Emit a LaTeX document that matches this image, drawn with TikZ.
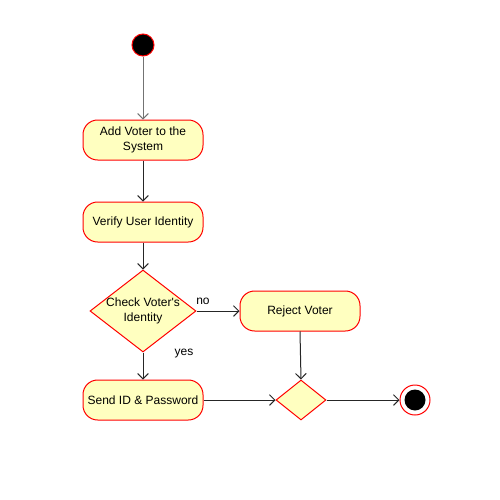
\documentclass[tikz,border=0pt]{standalone}
\usepackage{fontspec}
\setmainfont{Liberation Sans}
\usetikzlibrary{shapes.geometric,arrows.meta}
\definecolor{actfill}{HTML}{FFFFC0}
\definecolor{actline}{HTML}{FF0000}
\begin{document}
\begin{tikzpicture}[x=0.75pt,y=-0.75pt,line width=0.75pt,
  font=\fontsize{9pt}{11pt}\selectfont,
  act/.style={draw=actline,fill=actfill,rounded corners=11pt,minimum width=90pt,minimum height=30pt,align=center,inner sep=2pt},
  dec/.style={draw=actline,fill=actfill,shape=diamond,inner sep=0pt},
  flow/.style={draw=black!85,-{Straight Barb[length=4pt,width=8pt]}},
  lbl/.style={inner sep=1pt}]
\useasboundingbox (0,0) rectangle (500,500);
\node[circle,fill=black,draw=actline,minimum size=22*0.75pt,inner sep=0pt] (start) at (143,45) {};
\node[act] (add) at (143,140) {Add Voter to the\\System};
\node[act] (verify) at (143,222) {Verify User Identity};
\node[dec,minimum width=106*0.75pt,minimum height=82*0.75pt] (check) at (143,311) {};
\node[align=center,inner sep=0pt] (checktxt) at (143,311) {Check Voter\textquotesingle s\\Identity};
\node[act] (reject) at (300,311) {Reject Voter};
\node[act] (send) at (143,400) {Send ID \& Password};
\node[dec,minimum width=50*0.75pt,minimum height=40*0.75pt] (merge) at (301,400) {};
\node[circle,draw=actline,fill=white,minimum size=30*0.75pt,inner sep=0pt] (end) at (415,400) {};
\node[circle,fill=black,minimum size=21*0.75pt,inner sep=0pt] (endin) at (415,400) {};
\draw[flow,draw=black!55] (start) -- (add);
\draw[flow] (add) -- (verify);
\draw[flow] (verify) -- (check);
\draw[flow] (check.east) -- (reject.west);
\draw[flow] (check.south) -- (send.north);
\draw[flow] (reject.south) -- (merge.north);
\draw[flow] (send.east) -- (merge.west);
\draw[flow] (merge.east) -- (end.west);
\node[lbl] (no) at (203,301) {no};
\node[lbl] (yes) at (184,354) {yes};
\end{tikzpicture}
\end{document}
